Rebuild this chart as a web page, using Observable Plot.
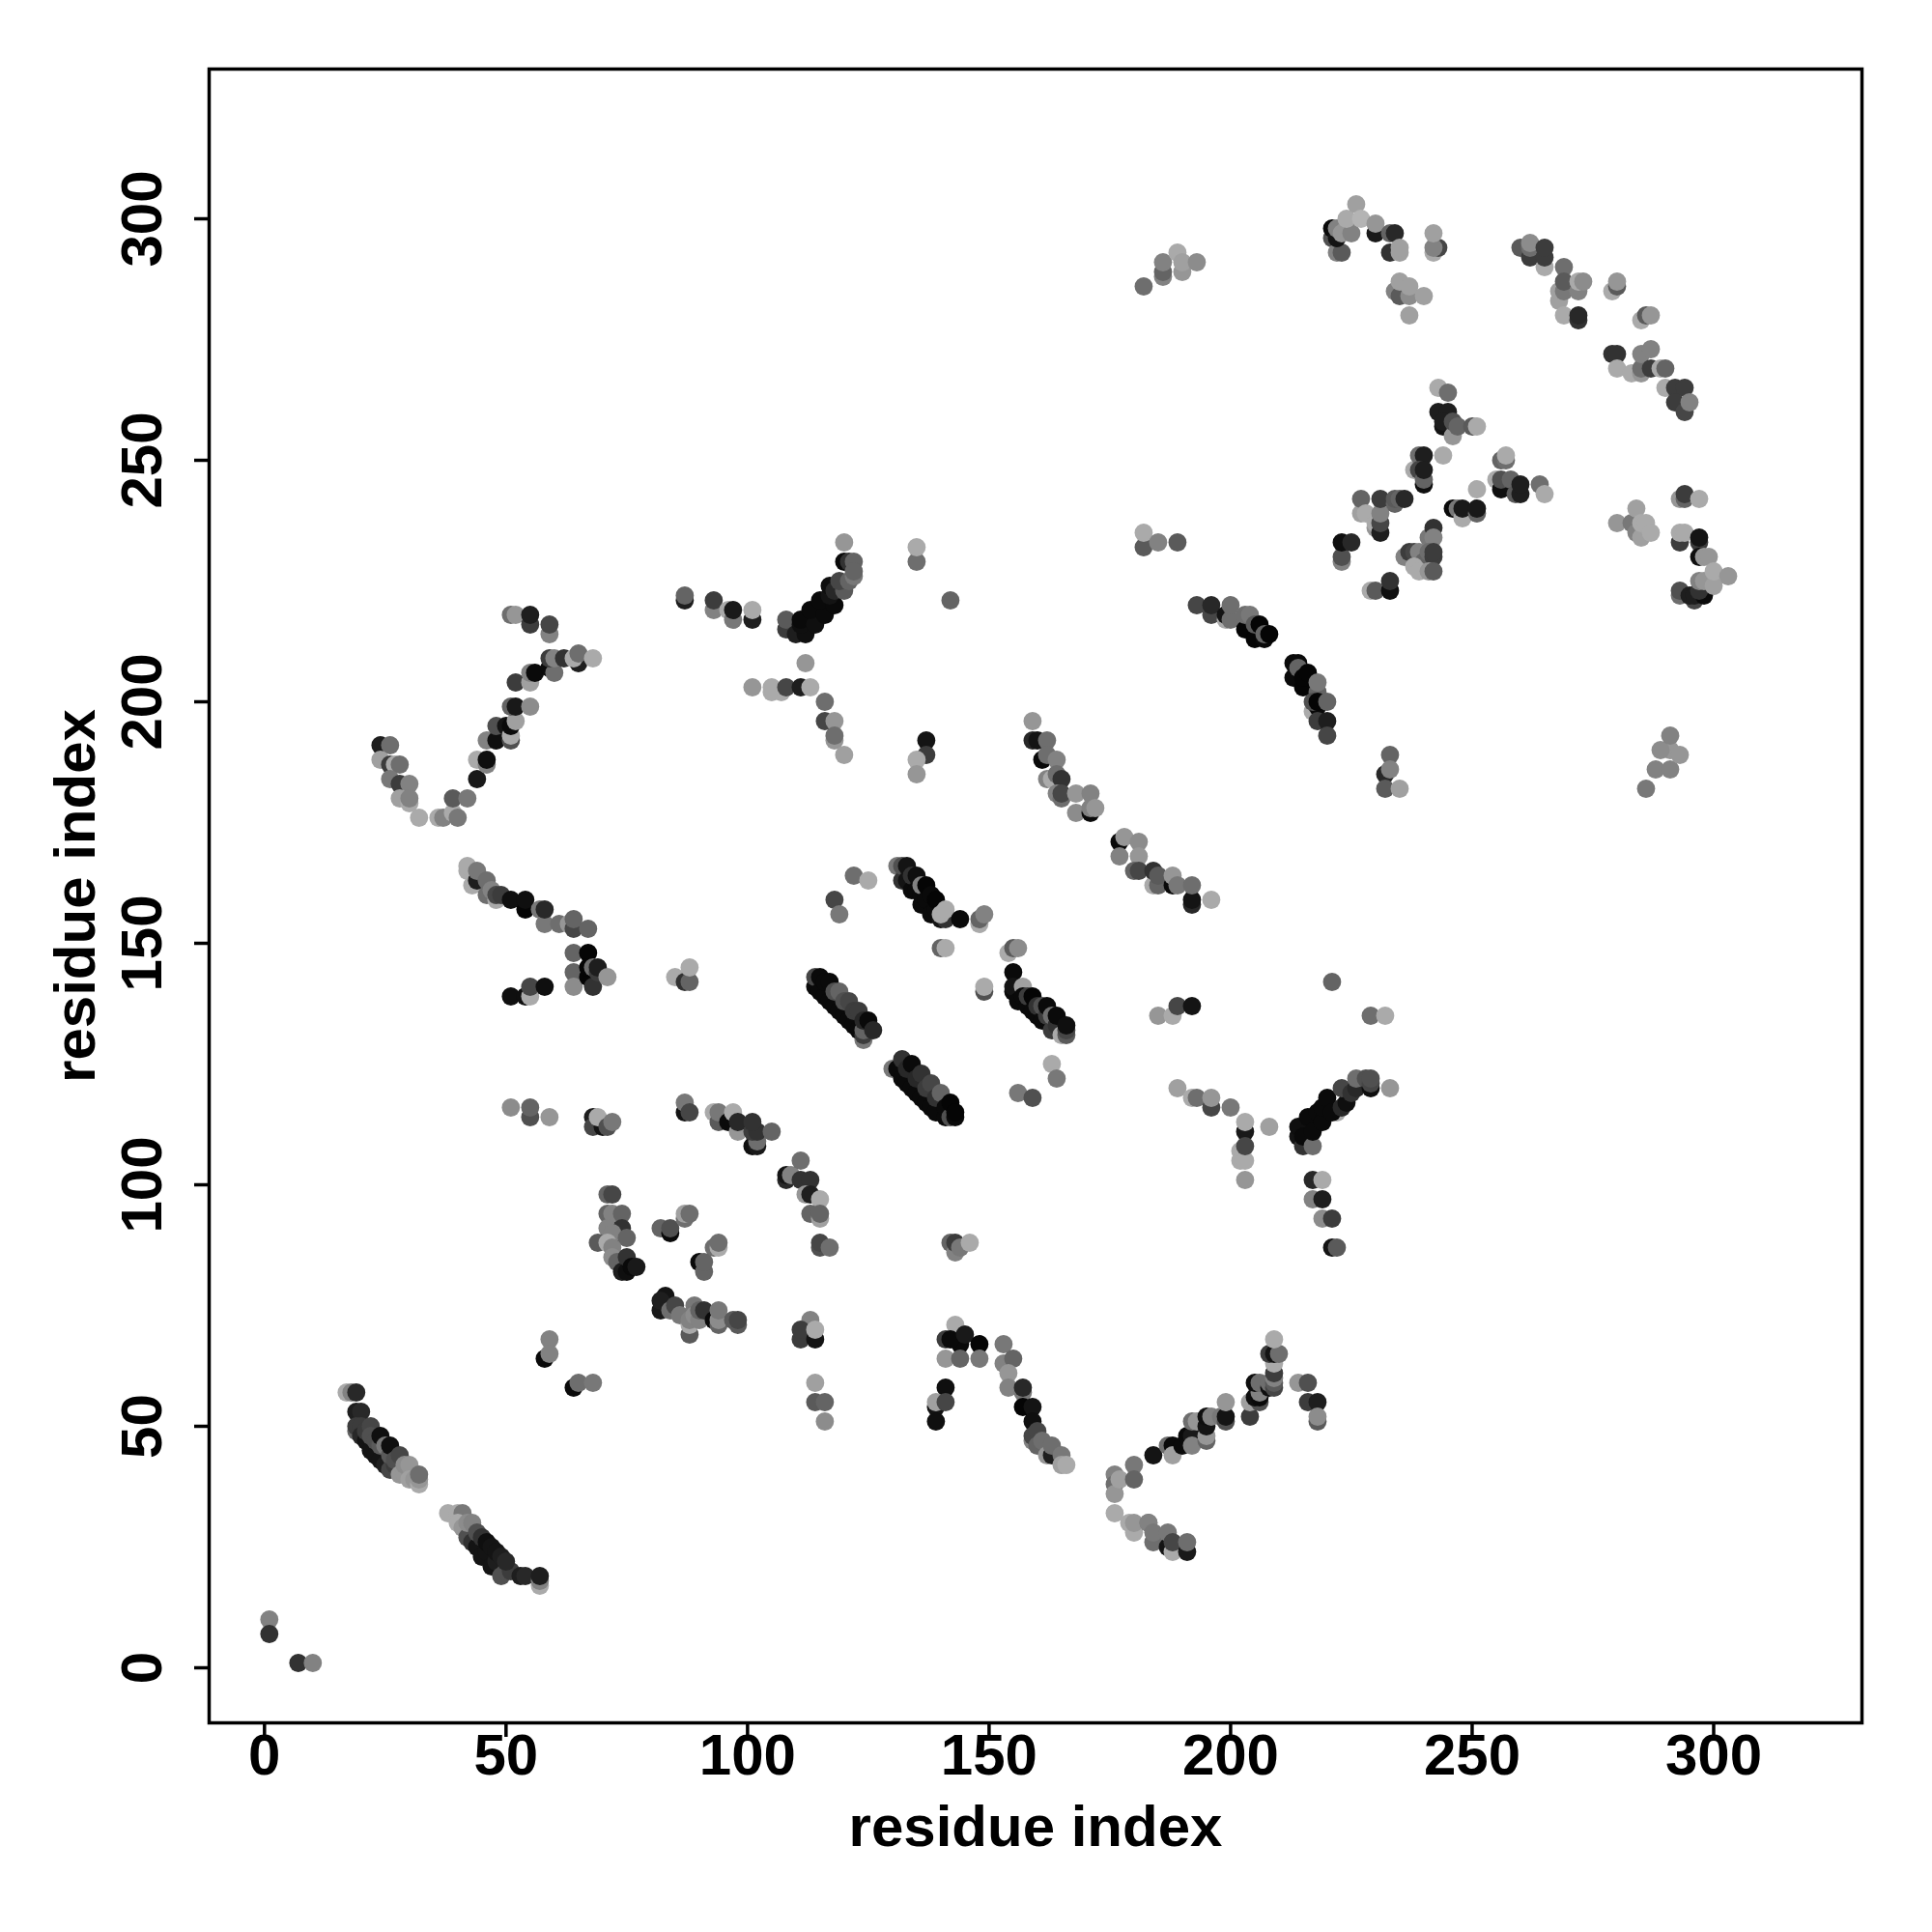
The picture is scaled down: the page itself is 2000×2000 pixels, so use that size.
<!DOCTYPE html>
<html><head><meta charset="utf-8">
<script src="https://cdn.jsdelivr.net/npm/d3@7"></script>
<script src="https://cdn.jsdelivr.net/npm/@observablehq/plot@0.6"></script>
<style>html,body{margin:0;padding:0;background:#fff}</style>
</head><body><div id="chart"></div>
<script>
// each contact: [residue i, residue j, grey level]
const tickValues = [0, 50, 100, 150, 200, 250, 300];
const axisLabel = "residue index";
const nearOrigin = [[1,10,130],[1,7,50],[7,1,50],[10,1,130]];
const strandA = [[17,57,170],[18,57,130],[19,57,40],[19,53,30],[20,53,40],[19,49,100],[19,50,60],[20,50,60],[20,48,40],[21,47,20],[21,49,60],[22,50,70],[22,45,20],[22,48,80],[23,44,20],[23,47,80],[24,43,20],[24,46,90],[24,48,15],[25,42,30],[25,46,120],[26,41,70],[26,44,90],[26,46,15],[27,42,60],[27,43,80],[28,44,70],[28,40,150],[29,40,150],[29,42,140],[30,42,150],[30,39,160],[31,39,150],[32,38,170],[32,39,150],[32,40,110]];
const strandB = [[38,32,170],[40,32,170],[41,32,120],[40,30,170],[41,29,150],[42,27,80],[42,30,140],[43,26,50],[43,30,130],[44,25,20],[44,28,80],[45,23,20],[45,27,50],[46,24,20],[46,26,15],[47,21,20],[47,25,20],[48,22,30],[48,24,20],[49,19,80],[49,23,30],[50,20,80],[51,20,60],[50,22,40],[53,19,30],[54,19,40],[57,17,170],[57,18,130],[57,19,30]];
const lowSmall = [[58,64,10],[59,68,130],[59,65,130],[64,58,10],[65,59,110],[68,59,120]];
const lowMid = [[113,72,130],[111,68,60],[111,70,60],[114,68,20],[114,70,170],[114,59,160],[114,55,90],[116,55,100],[116,51,140]];
const peakA = [[143,71,170],[141,68,60],[144,67,10],[142,68,10],[145,69,25],[148,67,5],[141,64,150],[144,64,100],[148,64,120],[141,58,15],[139,54,20],[139,55,160],[141,55,70],[139,51,15]];
const peakB = [[153,67,120],[153,63,130],[155,64,100],[154,61,150],[154,58,130],[157,57,120],[157,58,40],[157,54,5],[159,54,20],[159,51,15],[159,47,130],[159,48,70],[160,49,70],[160,46,100],[161,47,110],[162,44,150],[163,44,30],[163,46,110],[165,44,120],[165,42,160],[166,42,170]];
const armA = [[176,40,130],[176,38,110],[176,36,150],[177,39,160],[180,42,120],[180,39,100],[184,44,20],[187,46,110],[188,46,10],[188,44,160],[190,46,10],[191,48,10],[192,48,25],[192,46,130],[192,51,110],[193,51,150],[195,47,100],[195,48,150],[195,50,20],[195,52,15],[196,52,130],[198,52,120],[199,51,80],[199,52,20],[199,55,150],[204,52,60],[204,55,160],[206,55,80],[205,56,15],[206,56,10],[206,57,130],[205,59,15],[206,59,110],[208,58,15],[208,59,110],[209,58,70],[209,59,90],[209,60,130],[209,61,60],[209,63,170],[208,65,60],[209,65,20],[210,65,110],[209,68,170],[214,59,150],[216,59,80],[216,55,60],[218,55,30],[218,51,90],[218,52,140]];
const armB = [[176,32,170],[179,30,170],[180,28,170],[180,30,150],[183,30,120],[183,30,130],[184,26,110],[184,28,120],[187,25,20],[187,28,120],[188,24,170],[188,26,70],[191,24,25],[191,26,110]];
const row114 = [[51,116,140],[55,114,80],[55,116,100],[59,114,150],[68,114,30],[68,112,70],[70,112,20],[69,114,170],[71,112,80],[72,113,120],[87,115,20],[87,117,120],[88,115,70]];
const curve110 = [[93,115,170],[94,113,90],[94,115,120],[96,113,10],[97,115,170],[98,111,150],[98,113,40],[101,108,15],[102,108,25],[102,109,110],[101,111,60],[102,111,50],[101,113,50],[105,111,100],[108,101,40],[108,102,20],[109,102,130],[111,101,50],[111,105,110],[113,101,50],[112,98,150],[113,98,30],[115,97,170],[113,94,100],[115,93,160],[115,94,100],[115,87,80],[115,88,70],[117,87,110]];
const block90 = [[71,98,100],[72,98,70],[72,93,20],[71,94,100],[72,94,130],[74,94,100],[71,91,130],[74,91,50],[72,89,10],[72,90,130],[75,89,100],[69,88,90],[71,88,170],[72,87,130],[72,85,140],[73,84,100],[74,82,30],[75,82,15],[75,85,50],[76,83,10],[77,83,25],[82,91,100],[84,90,10],[84,91,80],[87,93,110],[87,94,160],[88,94,110],[93,87,110],[94,87,170],[94,88,110],[90,84,10],[91,82,100],[91,84,100]];
const row72 = [[82,74,25],[83,77,20],[82,76,30],[84,74,110],[85,75,70],[86,73,120],[88,69,90],[88,71,170],[88,72,130],[89,75,120],[89,73,140],[90,72,130],[90,74,100],[91,74,50],[93,72,10],[94,71,100],[94,72,140],[94,74,120],[97,72,90],[98,71,90],[98,72,70]];
const mid88 = [[142,88,100],[143,86,130],[143,88,60],[144,87,120],[146,88,170]];
const band1 = [[118,159,70],[119,156,120],[122,164,110],[125,163,170],[131,166,120],[132,163,50],[132,166,80],[133,163,20],[133,166,20],[134,161,10],[134,164,50],[135,161,10],[135,164,15],[136,158,10],[136,160,10],[136,162,130],[137,159,10],[137,162,5],[138,156,10],[138,160,10],[139,157,10],[139,159,5],[140,155,20],[141,155,50],[140,156,170],[141,157,170],[144,155,10],[148,154,170],[148,155,100],[149,156,130],[140,149,100],[141,149,170],[149,140,80],[149,141,170]];
const band2 = [[114,141,10],[114,143,70],[115,140,10],[115,143,10],[116,139,10],[116,142,10],[117,138,10],[117,142,10],[118,137,10],[118,140,80],[119,136,10],[119,140,100],[120,135,10],[120,138,80],[121,134,10],[121,138,70],[122,133,10],[122,136,60],[123,132,10],[123,136,60],[124,130,120],[124,131,60],[124,132,100],[124,134,40],[125,134,10],[126,132,40]];
const band3 = [[130,124,120],[131,124,10],[132,122,10],[132,126,50],[133,121,10],[133,124,40],[134,120,10],[134,125,10],[135,119,10],[135,122,40],[136,118,10],[136,123,50],[137,117,10],[137,120,60],[138,116,10],[138,121,70],[139,115,10],[139,118,50],[140,119,100],[141,114,10],[141,116,10],[142,114,80],[142,117,5],[143,114,10],[143,115,5]];
const band4 = [[154,148,170],[155,149,90],[156,149,140],[155,144,10],[155,140,10],[155,141,20],[157,141,160],[156,138,10],[157,139,10],[158,137,10],[158,139,60],[159,136,10],[159,139,5],[160,135,10],[160,137,50],[161,134,10],[161,137,80],[162,135,60],[162,137,10],[163,132,60],[163,135,110],[164,133,50],[164,135,10],[165,131,170],[166,131,90],[166,132,70],[166,133,15],[163,125,170],[164,122,120],[156,119,120],[159,118,80]];
const mid137 = [[185,135,150],[188,135,170],[189,137,70],[192,137,20],[221,142,100],[229,135,110],[232,135,170]];
const forkLeft = [[189,120,160],[192,118,170],[193,118,110],[196,116,70],[196,118,150],[200,116,120],[203,111,25],[203,113,170],[202,107,170],[202,105,170],[203,105,170],[203,108,70],[203,101,150],[208,112,160]];
const forkRight = [[214,110,20],[214,112,15],[215,108,50],[215,110,10],[216,114,10],[217,108,110],[217,111,10],[218,115,10],[219,113,10],[219,116,10],[220,118,10],[222,115,170],[221,115,10],[223,116,40],[224,117,15],[223,120,70],[225,119,50],[226,120,40],[226,122,110],[228,122,80],[229,120,15],[229,121,70],[229,122,80],[233,120,150]];
const forkDown = [[217,101,40],[219,101,170],[217,97,130],[219,97,30],[219,93,140],[221,93,60],[221,87,20],[222,87,90]];
const strand165 = [[42,165,170],[42,166,170],[43,162,170],[44,163,30],[44,165,120],[46,160,110],[46,163,110],[47,161,130],[48,159,170],[48,160,70],[49,160,60],[51,159,15],[54,157,5],[54,159,15],[57,157,120],[58,154,120],[58,157,40],[61,154,110],[63,154,150],[64,153,70],[64,155,100],[67,153,100]];
const block145 = [[64,148,100],[67,148,5],[64,144,100],[64,141,140],[67,143,5],[67,145,5],[68,141,50],[68,145,110],[69,144,60],[69,145,30],[71,143,150],[51,139,15],[54,139,15],[55,139,170],[55,141,70],[58,141,15],[85,143,170],[87,142,50],[88,142,100],[88,145,170]];
const vee = [[24,191,30],[26,191,110],[24,188,160],[26,187,60],[27,187,170],[28,187,110],[26,184,120],[28,183,60],[30,183,130],[28,180,160],[30,179,170],[30,180,130],[32,176,170],[36,176,170],[37,176,130],[39,177,170],[39,180,90],[40,176,120],[42,180,120],[44,184,25],[44,188,170],[46,187,130],[46,188,15],[46,192,130],[48,192,15],[48,195,80],[50,195,20],[51,192,80],[51,193,170],[51,195,10],[52,196,160],[51,199,100],[52,199,25],[55,199,140],[52,204,60],[55,204,160],[55,206,130],[56,206,10],[59,207,10],[60,206,110],[59,209,60],[60,209,130],[62,209,50],[65,208,30],[64,209,170],[65,210,110],[68,209,170]];
const top218 = [[51,218,110],[52,218,150],[55,216,60],[55,218,30],[59,214,130],[59,216,70]];
const row220 = [[87,221,30],[87,222,100],[93,219,130],[93,221,60],[96,219,170],[97,217,120],[97,219,25],[101,217,30],[101,219,170]];
const riser = [[108,215,60],[108,217,90],[110,214,30],[112,214,15],[111,216,15],[111,217,10],[114,216,15],[113,219,10],[116,218,10],[115,221,10],[118,220,10],[117,222,20],[117,224,15],[118,223,40],[120,223,90],[119,225,70],[121,225,100],[122,226,120],[120,229,10],[121,229,50],[122,229,100],[122,227,100],[120,233,150],[135,229,110],[135,232,170],[142,221,100]];
const row203 = [[101,203,150],[105,202,170],[107,202,170],[105,203,170],[108,203,70],[111,203,30],[112,208,150],[113,203,170],[116,200,110],[116,196,70],[118,196,150],[118,192,150],[118,193,110],[120,189,160],[137,192,20],[137,189,60],[135,188,170],[135,185,150]];
const arc215 = [[193,220,70],[196,218,70],[196,220,40],[199,217,170],[199,218,20],[200,217,110],[200,220,110],[203,215,5],[203,218,110],[204,218,120],[205,213,5],[205,216,90],[206,216,5],[207,213,10],[207,214,100],[208,214,5]];
const arc205 = [[213,205,10],[213,208,10],[214,208,10],[214,207,100],[215,203,5],[215,205,5],[216,206,5],[217,198,170],[218,199,10],[218,202,100],[218,204,120],[217,200,80],[218,200,5],[220,200,100],[218,196,60],[220,196,30],[220,193,70]];
const arc185 = [[159,196,150],[159,192,40],[160,192,20],[162,192,110],[161,188,10],[162,189,110],[164,188,130],[162,184,130],[163,184,170],[164,185,110],[165,184,50],[164,181,130],[165,180,110],[165,181,70],[168,177,140],[168,181,150],[171,177,10],[171,178,130],[171,181,130],[172,178,150]];
const arc165 = [[177,171,10],[178,172,150],[181,171,140],[177,168,130],[181,168,150],[180,165,100],[181,165,70],[184,162,170],[184,165,50],[185,162,100],[185,164,90],[188,162,10],[188,164,150],[189,162,120],[192,158,40],[192,159,20],[192,162,110],[196,159,170]];
const cluster255 = [[243,265,170],[245,264,110],[243,260,30],[245,260,30],[244,257,20],[244,258,30],[246,255,150],[246,258,80],[247,257,100],[250,257,90],[251,257,170],[244,251,170],[238,248,170],[239,251,110],[240,251,30],[239,248,70],[240,245,15],[240,246,100],[240,248,30]];
const cluster245 = [[256,250,100],[257,250,110],[257,251,170],[255,246,170],[256,244,15],[256,246,80],[258,246,100],[259,243,90],[260,243,30],[260,245,30],[264,245,110],[265,243,170],[251,244,170],[246,240,10],[247,240,120],[248,238,170],[248,240,25],[251,239,100],[251,240,25]];
const cluster240 = [[227,239,160],[227,242,100],[228,239,170],[230,236,150],[230,237,170],[231,235,30],[231,237,70],[231,239,130],[231,242,60],[234,241,100],[234,242,90],[235,242,100],[236,242,40],[223,229,130],[223,230,80],[223,233,15],[225,233,40],[229,223,170],[230,223,90],[233,223,15],[233,225,50]];
const cluster230 = [[241,234,120],[242,236,50],[242,234,130],[236,230,130],[237,231,60],[238,231,70],[239,231,130],[240,229,100],[241,231,110],[242,230,60],[242,231,60],[238,228,170],[239,227,170],[241,227,150],[242,227,90]];
const rightSide = [[293,242,150],[294,242,100],[294,243,60],[297,242,170],[280,237,150],[283,237,120],[284,235,130],[284,240,160],[285,234,160],[285,237,170],[286,237,170],[287,235,170],[293,233,60],[293,235,170],[294,235,170],[297,233,60],[297,234,20],[297,230,15],[298,230,150],[299,230,150],[293,222,110],[293,223,80],[296,221,70],[295,222,30],[296,222,30],[298,222,10],[297,223,50],[297,225,130],[298,225,150],[300,224,160],[300,227,170],[303,226,150]];
const small190 = [[286,182,120],[288,186,130],[291,186,130],[291,190,150],[289,190,140],[293,189,150],[291,193,130],[233,189,100],[232,185,40],[233,186,130],[232,182,90],[235,182,160],[182,232,90],[182,235,170],[185,233,130],[189,233,90]];
const top290 = [[182,286,110],[186,288,130],[186,289,100],[186,291,130],[189,293,170],[190,289,150],[190,291,160],[193,291,140]];
const top298 = [[221,296,80],[221,298,10],[222,293,130],[223,293,90],[222,296,20],[222,298,130],[224,298,150],[223,297,150],[225,297,130],[224,300,170],[226,303,160],[227,300,180],[230,297,25],[230,299,150],[233,293,50],[233,297,100],[234,297,40],[235,293,160],[235,294,160],[242,293,170],[243,294,70],[242,294,130],[242,297,160]];
const top285 = [[234,285,130],[235,284,90],[235,287,160],[237,284,140],[237,286,160],[240,284,160],[237,280,160]];
const top280 = [[260,294,90],[262,292,60],[262,294,110],[262,295,140],[265,290,170],[265,292,60],[265,294,60],[269,290,110],[268,283,160],[268,285,160],[269,285,120],[269,287,90],[272,285,130],[272,287,170],[273,287,140],[269,280,170],[272,279,50],[272,280,40],[279,285,170],[280,286,90],[280,287,150],[285,279,170],[286,280,90],[287,280,150]];
const top270 = [[279,272,50],[280,272,50],[280,269,170],[283,268,170],[285,268,150],[285,269,110],[285,272,130],[287,273,130],[287,269,60],[289,269,170],[290,269,100],[290,265,170],[292,265,60],[294,265,60],[292,262,60],[294,260,70],[295,262,130]];

const contacts = [nearOrigin,strandA,strandB,lowSmall,lowMid,peakA,peakB,armA,armB,row114,curve110,block90,row72,mid88,band1,band2,band3,band4,mid137,forkLeft,forkRight,forkDown,strand165,block145,vee,top218,row220,riser,row203,arc215,arc205,arc185,arc165,cluster255,cluster245,cluster240,cluster230,rightSide,small190,top290,top298,top285,top280,top270].flat();

const font = {fontFamily:"'Liberation Sans', Arial, sans-serif", fontWeight:"bold"};
const chart = Plot.plot({
  width:2000, height:2000,
  marginLeft:216, marginRight:73, marginTop:71, marginBottom:217,
  style:{...font, fontSize:"60px", background:"#fff", color:"#000"},
  x:{domain:[-11.46,330.7], label:null},
  y:{domain:[-11.4,331], label:null},
  color:{type:"identity"},
  marks:[
    Plot.dot(contacts,{x:d=>d[0],y:d=>d[1],r:9.4,fill:d=>d3.rgb(d[2],d[2],d[2]).formatHex(),stroke:"none"}),
    Plot.axisX({ticks:tickValues,tickSize:15,tickPadding:-4,strokeWidth:3.5,fontSize:60,fontWeight:"bold",tickFormat:d=>String(d),label:axisLabel,labelAnchor:"center",labelArrow:"none",labelOffset:127}),
    Plot.axisY({ticks:tickValues,tickSize:15,tickPadding:35,strokeWidth:3.5,fontSize:60,fontWeight:"bold",tickRotate:-90,tickFormat:d=>String(d),label:axisLabel,labelAnchor:"center",labelArrow:"none",labelOffset:161}),
    Plot.frame({stroke:"#000",strokeWidth:3.5})
  ]
});
document.getElementById("chart").appendChild(chart);
</script>
</body></html>
